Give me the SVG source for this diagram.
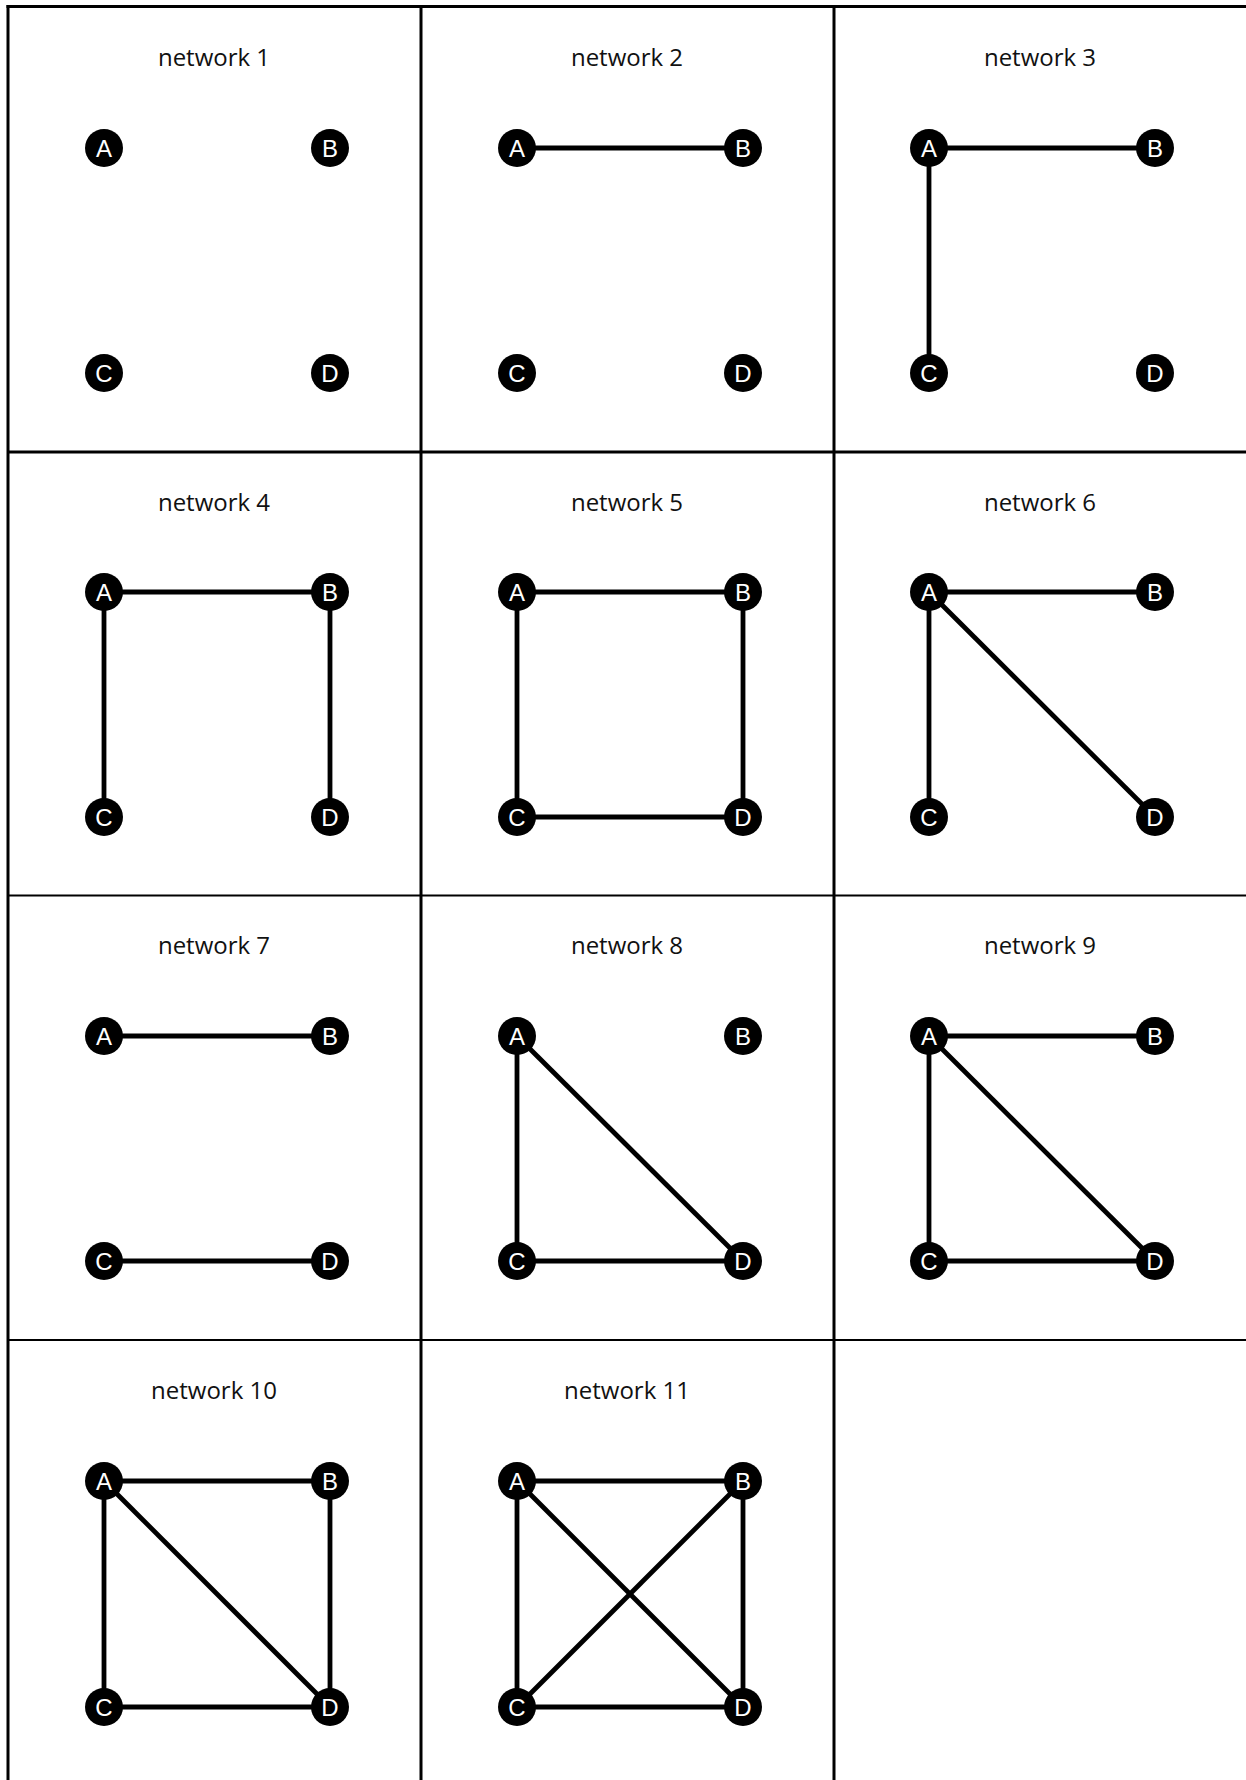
<svg xmlns="http://www.w3.org/2000/svg" width="1246" height="1780" viewBox="0 0 1246 1780">
<style>
.grid{stroke:#000;stroke-width:3;fill:none}
.gridm{stroke:#000;stroke-width:2.2;fill:none}
.title{font-family:"Open Sans","Liberation Sans",sans-serif;font-size:24px;fill:#111;text-anchor:middle}
.edge{stroke:#000;stroke-width:4.8;stroke-linecap:butt}
.node circle{fill:#000}
.node text{font-family:"Liberation Sans",Arial,sans-serif;font-size:24px;fill:#fff;text-anchor:middle}
</style>
<rect width="1246" height="1780" fill="#fff"/>
<g id="grid">
<line class="grid" x1="6.5" y1="6.5" x2="1246" y2="6.5"/>
<line class="grid" x1="8" y1="5" x2="8" y2="1780"/>
<line class="grid" x1="421" y1="5" x2="421" y2="1780"/>
<line class="grid" x1="834" y1="5" x2="834" y2="1780"/>
<line class="grid" x1="8" y1="452" x2="1246" y2="452"/>
<line class="gridm" x1="8" y1="895.5" x2="1246" y2="895.5"/>
<line class="gridm" x1="8" y1="1340" x2="1246" y2="1340"/>
</g>
<g id="titles">
<text class="title" x="214" y="66">network 1</text>
<text class="title" x="627" y="66">network 2</text>
<text class="title" x="1040" y="66">network 3</text>
<text class="title" x="214" y="511">network 4</text>
<text class="title" x="627" y="511">network 5</text>
<text class="title" x="1040" y="511">network 6</text>
<text class="title" x="214" y="954">network 7</text>
<text class="title" x="627" y="954">network 8</text>
<text class="title" x="1040" y="954">network 9</text>
<text class="title" x="214" y="1399">network 10</text>
<text class="title" x="627" y="1399">network 11</text>
</g>
<g id="connectors">
<line class="edge" x1="517" y1="148" x2="743" y2="148"/>
<line class="edge" x1="929" y1="148" x2="1155" y2="148"/>
<line class="edge" x1="929" y1="148" x2="929" y2="373"/>
<line class="edge" x1="104" y1="592" x2="330" y2="592"/>
<line class="edge" x1="104" y1="592" x2="104" y2="817"/>
<line class="edge" x1="330" y1="592" x2="330" y2="817"/>
<line class="edge" x1="517" y1="592" x2="743" y2="592"/>
<line class="edge" x1="517" y1="592" x2="517" y2="817"/>
<line class="edge" x1="743" y1="592" x2="743" y2="817"/>
<line class="edge" x1="517" y1="817" x2="743" y2="817"/>
<line class="edge" x1="929" y1="592" x2="1155" y2="592"/>
<line class="edge" x1="929" y1="592" x2="929" y2="817"/>
<line class="edge" x1="929" y1="592" x2="1155" y2="817"/>
<line class="edge" x1="104" y1="1036" x2="330" y2="1036"/>
<line class="edge" x1="104" y1="1261" x2="330" y2="1261"/>
<line class="edge" x1="517" y1="1036" x2="517" y2="1261"/>
<line class="edge" x1="517" y1="1036" x2="743" y2="1261"/>
<line class="edge" x1="517" y1="1261" x2="743" y2="1261"/>
<line class="edge" x1="929" y1="1036" x2="1155" y2="1036"/>
<line class="edge" x1="929" y1="1036" x2="929" y2="1261"/>
<line class="edge" x1="929" y1="1036" x2="1155" y2="1261"/>
<line class="edge" x1="929" y1="1261" x2="1155" y2="1261"/>
<line class="edge" x1="104" y1="1481" x2="330" y2="1481"/>
<line class="edge" x1="104" y1="1481" x2="104" y2="1707"/>
<line class="edge" x1="330" y1="1481" x2="330" y2="1707"/>
<line class="edge" x1="104" y1="1707" x2="330" y2="1707"/>
<line class="edge" x1="104" y1="1481" x2="330" y2="1707"/>
<line class="edge" x1="517" y1="1481" x2="743" y2="1481"/>
<line class="edge" x1="517" y1="1481" x2="517" y2="1707"/>
<line class="edge" x1="743" y1="1481" x2="743" y2="1707"/>
<line class="edge" x1="517" y1="1707" x2="743" y2="1707"/>
<line class="edge" x1="517" y1="1481" x2="743" y2="1707"/>
<line class="edge" x1="743" y1="1481" x2="517" y2="1707"/>
</g>
<g id="nodes">
<g id="n1A" class="node"><circle cx="104" cy="148" r="19"/><text x="104" y="157">A</text></g>
<g id="n1B" class="node"><circle cx="330" cy="148" r="19"/><text x="330" y="157">B</text></g>
<g id="n1C" class="node"><circle cx="104" cy="373" r="19"/><text x="104" y="382">C</text></g>
<g id="n1D" class="node"><circle cx="330" cy="373" r="19"/><text x="330" y="382">D</text></g>
<g id="n2A" class="node"><circle cx="517" cy="148" r="19"/><text x="517" y="157">A</text></g>
<g id="n2B" class="node"><circle cx="743" cy="148" r="19"/><text x="743" y="157">B</text></g>
<g id="n2C" class="node"><circle cx="517" cy="373" r="19"/><text x="517" y="382">C</text></g>
<g id="n2D" class="node"><circle cx="743" cy="373" r="19"/><text x="743" y="382">D</text></g>
<g id="n3A" class="node"><circle cx="929" cy="148" r="19"/><text x="929" y="157">A</text></g>
<g id="n3B" class="node"><circle cx="1155" cy="148" r="19"/><text x="1155" y="157">B</text></g>
<g id="n3C" class="node"><circle cx="929" cy="373" r="19"/><text x="929" y="382">C</text></g>
<g id="n3D" class="node"><circle cx="1155" cy="373" r="19"/><text x="1155" y="382">D</text></g>
<g id="n4A" class="node"><circle cx="104" cy="592" r="19"/><text x="104" y="601">A</text></g>
<g id="n4B" class="node"><circle cx="330" cy="592" r="19"/><text x="330" y="601">B</text></g>
<g id="n4C" class="node"><circle cx="104" cy="817" r="19"/><text x="104" y="826">C</text></g>
<g id="n4D" class="node"><circle cx="330" cy="817" r="19"/><text x="330" y="826">D</text></g>
<g id="n5A" class="node"><circle cx="517" cy="592" r="19"/><text x="517" y="601">A</text></g>
<g id="n5B" class="node"><circle cx="743" cy="592" r="19"/><text x="743" y="601">B</text></g>
<g id="n5C" class="node"><circle cx="517" cy="817" r="19"/><text x="517" y="826">C</text></g>
<g id="n5D" class="node"><circle cx="743" cy="817" r="19"/><text x="743" y="826">D</text></g>
<g id="n6A" class="node"><circle cx="929" cy="592" r="19"/><text x="929" y="601">A</text></g>
<g id="n6B" class="node"><circle cx="1155" cy="592" r="19"/><text x="1155" y="601">B</text></g>
<g id="n6C" class="node"><circle cx="929" cy="817" r="19"/><text x="929" y="826">C</text></g>
<g id="n6D" class="node"><circle cx="1155" cy="817" r="19"/><text x="1155" y="826">D</text></g>
<g id="n7A" class="node"><circle cx="104" cy="1036" r="19"/><text x="104" y="1045">A</text></g>
<g id="n7B" class="node"><circle cx="330" cy="1036" r="19"/><text x="330" y="1045">B</text></g>
<g id="n7C" class="node"><circle cx="104" cy="1261" r="19"/><text x="104" y="1270">C</text></g>
<g id="n7D" class="node"><circle cx="330" cy="1261" r="19"/><text x="330" y="1270">D</text></g>
<g id="n8A" class="node"><circle cx="517" cy="1036" r="19"/><text x="517" y="1045">A</text></g>
<g id="n8B" class="node"><circle cx="743" cy="1036" r="19"/><text x="743" y="1045">B</text></g>
<g id="n8C" class="node"><circle cx="517" cy="1261" r="19"/><text x="517" y="1270">C</text></g>
<g id="n8D" class="node"><circle cx="743" cy="1261" r="19"/><text x="743" y="1270">D</text></g>
<g id="n9A" class="node"><circle cx="929" cy="1036" r="19"/><text x="929" y="1045">A</text></g>
<g id="n9B" class="node"><circle cx="1155" cy="1036" r="19"/><text x="1155" y="1045">B</text></g>
<g id="n9C" class="node"><circle cx="929" cy="1261" r="19"/><text x="929" y="1270">C</text></g>
<g id="n9D" class="node"><circle cx="1155" cy="1261" r="19"/><text x="1155" y="1270">D</text></g>
<g id="n10A" class="node"><circle cx="104" cy="1481" r="19"/><text x="104" y="1490">A</text></g>
<g id="n10B" class="node"><circle cx="330" cy="1481" r="19"/><text x="330" y="1490">B</text></g>
<g id="n10C" class="node"><circle cx="104" cy="1707" r="19"/><text x="104" y="1716">C</text></g>
<g id="n10D" class="node"><circle cx="330" cy="1707" r="19"/><text x="330" y="1716">D</text></g>
<g id="n11A" class="node"><circle cx="517" cy="1481" r="19"/><text x="517" y="1490">A</text></g>
<g id="n11B" class="node"><circle cx="743" cy="1481" r="19"/><text x="743" y="1490">B</text></g>
<g id="n11C" class="node"><circle cx="517" cy="1707" r="19"/><text x="517" y="1716">C</text></g>
<g id="n11D" class="node"><circle cx="743" cy="1707" r="19"/><text x="743" y="1716">D</text></g>
</g>
</svg>
